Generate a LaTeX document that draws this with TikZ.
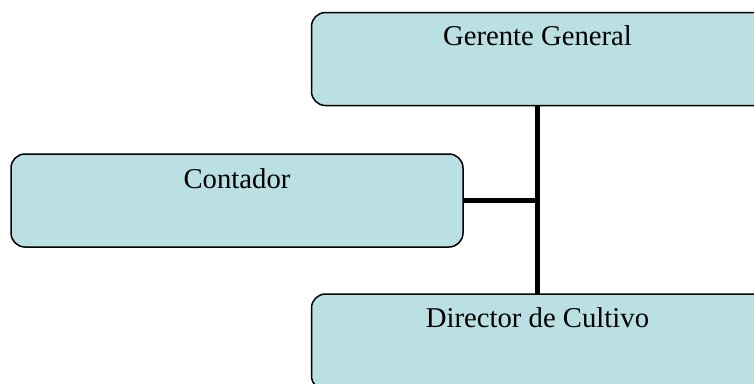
\documentclass[tikz,border=0pt]{standalone}
\usepackage{fontspec}
\setmainfont{Liberation Serif}
\definecolor{boxfill}{RGB}{186,224,227}
\begin{document}
\begin{tikzpicture}[x=1pt,y=-1pt,
  orgbox/.style={draw=black, line width=1.5pt, fill=boxfill, rounded corners=14pt,
    minimum width=452pt, minimum height=93pt, inner sep=0pt},
  widebox/.style={orgbox, minimum width=457pt},
  boxtext/.style={anchor=base, font=\fontsize{28.7}{34}\selectfont},
  link/.style={line width=5pt}]
\useasboundingbox (0,0) rectangle (754,383);
\clip (0,0) rectangle (754,383);
\node[widebox] (ger) at (540,59) {};
\node[orgbox] (con) at (237,200.5) {};
\node[widebox, minimum height=96pt] (dir) at (540,342) {};
\node[boxtext] (gert) at (537.5,45) {Gerente General};
\node[boxtext] (cont) at (237,188) {Contador};
\node[boxtext] (dirt) at (537.5,327) {Director de Cultivo};
\coordinate (gb) at (537.5,106);
\coordinate (dt) at (537.5,294);
\coordinate (j) at (gb |- con.east);
\draw[link] (gb) -- (dt);
\draw[link] (con.east) -- (j);
\end{tikzpicture}
\end{document}
